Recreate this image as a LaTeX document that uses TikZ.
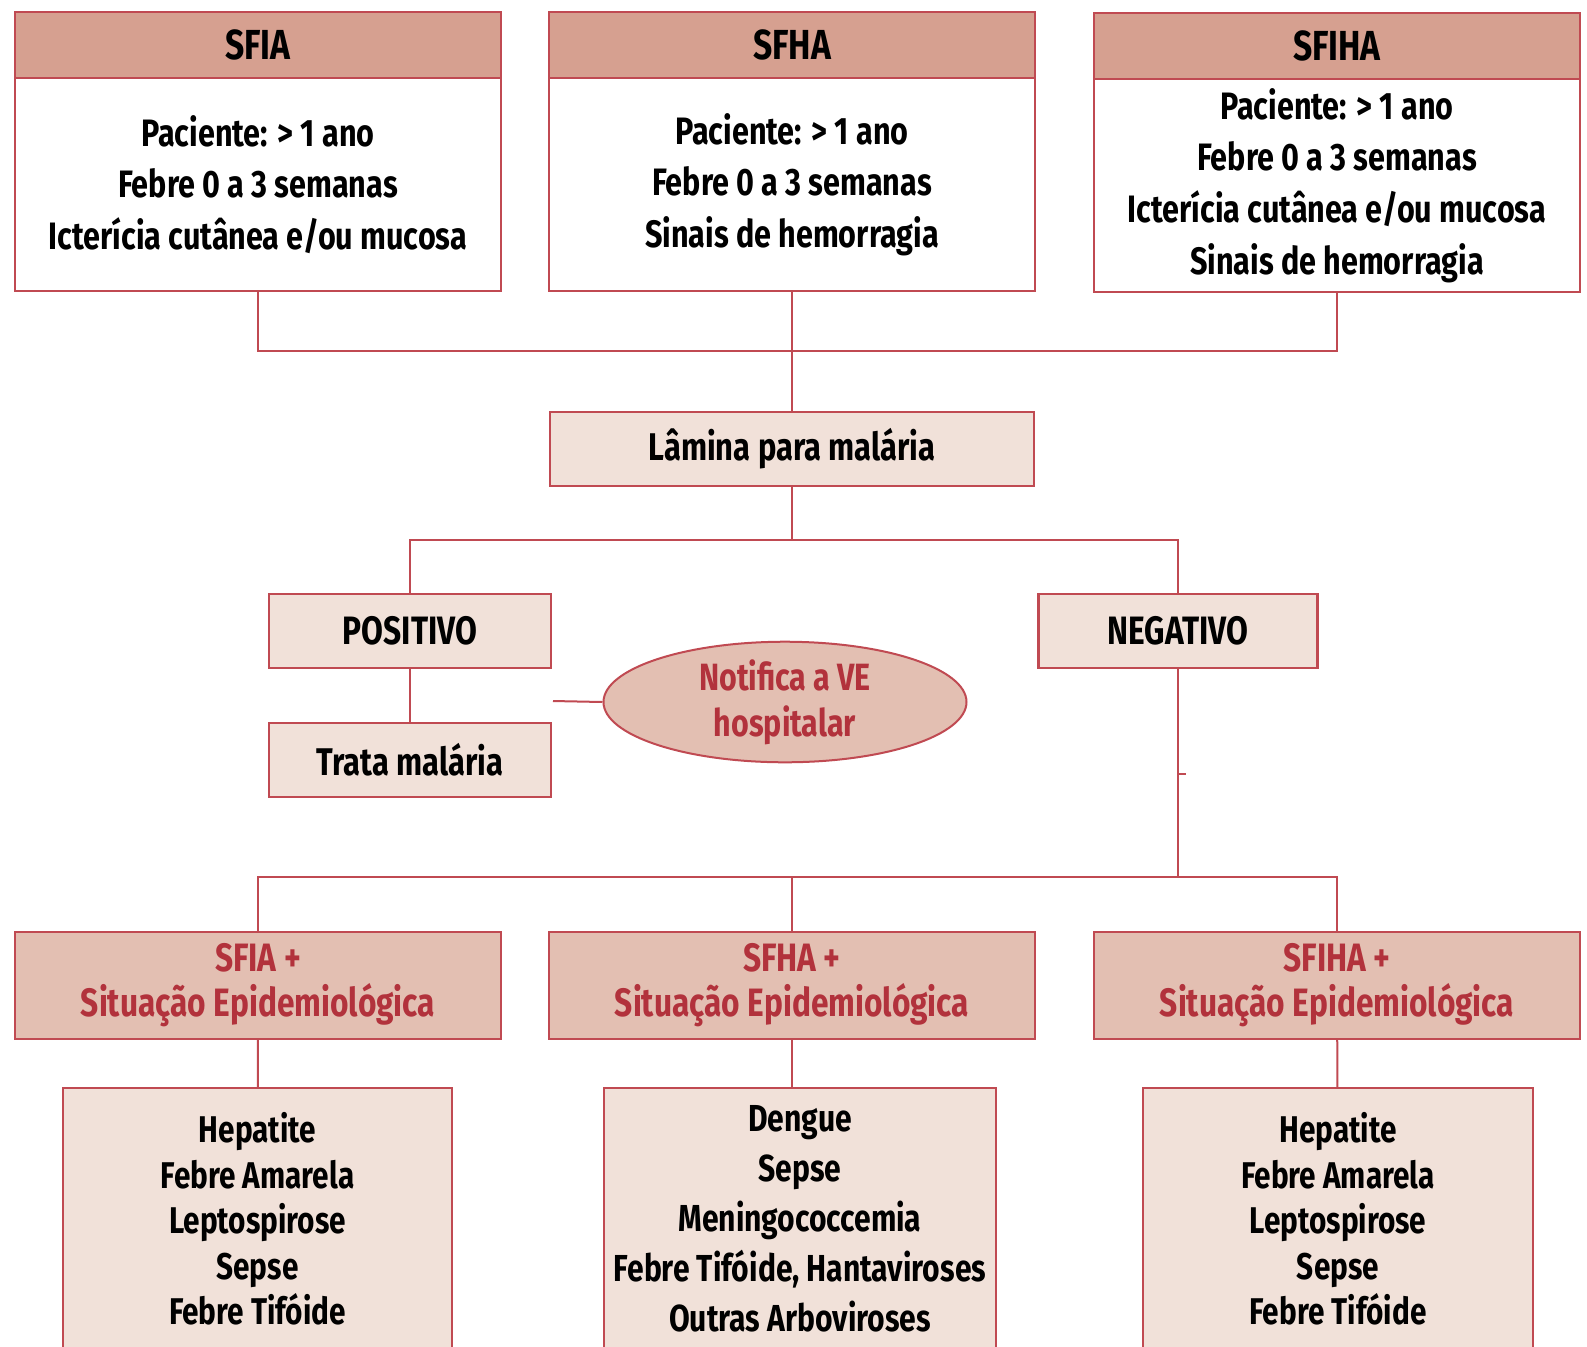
\documentclass[tikz,border=0pt]{standalone}
\usepackage{fontspec}
\setmainfont{Fira Sans}[FakeStretch=0.8]
\usetikzlibrary{positioning,shapes.geometric}
\definecolor{borda}{RGB}{192,74,82}
\definecolor{cabec}{RGB}{214,160,144}
\definecolor{medio}{RGB}{227,191,178}
\definecolor{claro}{RGB}{241,225,217}
\definecolor{texred}{RGB}{178,50,60}
\tikzset{
  caixa/.style={draw=borda, line width=1.2pt, outer sep=0pt, inner sep=0pt, align=center},
  hdr/.style={caixa, fill=cabec, minimum width=243pt, minimum height=33pt, font=\fontsize{21}{25}\selectfont\bfseries},
  corpo/.style={caixa, fill=white, minimum width=243pt, minimum height=106.5pt, font=\fontsize{19.1}{25.8}\selectfont\bfseries},
  passo/.style={caixa, fill=claro, minimum height=37pt, font=\fontsize{19.3}{25}\selectfont\bfseries},
  sitep/.style={caixa, fill=medio, text=texred, minimum width=243pt, minimum height=53.5pt, font=\fontsize{19.8}{22.5}\selectfont\bfseries},
  lista/.style={caixa, fill=claro, minimum height=131pt, font=\fontsize{18.6}{22.75}\selectfont\bfseries},
  liga/.style={draw=borda, line width=1pt}
}
\begin{document}
\begin{tikzpicture}[x=0.5pt, y=-0.5pt]
    \useasboundingbox (0,0) rectangle (1587,1346);

    % sindromes
    \node[hdr] (sfia) at (258,45) {SFIA};
    \node[corpo, below=0pt of sfia] (sfiab) {Paciente: > 1 ano\\Febre 0 a 3 semanas\\Icterícia cutânea e/ou mucosa};
    \node[hdr] (sfha) at (792,45) {SFHA};
    \node[corpo, below=0pt of sfha] (sfhab) {Paciente: > 1 ano\\Febre 0 a 3 semanas\\Sinais de hemorragia};
    \node[hdr] (sfiha) at (1337,46) {SFIHA};
    \node[corpo, below=0pt of sfiha] (sfihab) {Paciente: > 1 ano\\Febre 0 a 3 semanas\\Icterícia cutânea e/ou mucosa\\Sinais de hemorragia};

    \node[passo, minimum width=242pt] (lamina) at (792,449) {Lâmina para malária};
    \node[passo, minimum width=141pt, font=\fontsize{19.8}{25}\selectfont\bfseries] (pos) at (410,631) {POSITIVO};
    \node[passo, minimum width=141pt] (trata) at (410,760) {Trata malária};
    \node[passo, minimum width=139.5pt, font=\fontsize{19.8}{25}\selectfont\bfseries] (neg) at (1178,631) {NEGATIVO};
    \node[ellipse, draw=borda, line width=1pt, fill=medio, text=texred, minimum width=181.5pt, minimum height=57pt, inner sep=0pt, align=center,
          font=\fontsize{19}{23}\selectfont\bfseries] (ve) at (785,702) {Notifica a VE\\hospitalar};

    % situacao epidemiologica
    \node[sitep] (sfiap) at (258,985.5) {SFIA +\\Situação Epidemiológica};
    \node[sitep] (sfhap) at (792,985.5) {SFHA +\\Situação Epidemiológica};
    \node[sitep] (sfihap) at (1337,985.5) {SFIHA +\\Situação Epidemiológica};

    \node[lista, minimum width=194.5pt] (lista) at (257.5,1219) {Hepatite\\Febre Amarela\\Leptospirose\\Sepse\\Febre Tifóide};
    \node[lista, minimum width=196pt, font=\fontsize{18.8}{25}\selectfont\bfseries] (listb) at (800,1219) {Dengue\\Sepse\\Meningococcemia\\Febre Tifóide, Hantaviroses\\Outras Arboviroses};
    \node[lista, minimum width=195pt] (listc) at (1338,1219) {Hepatite\\Febre Amarela\\Leptospirose\\Sepse\\Febre Tifóide};

    \coordinate (jtop) at (792,351);
    \coordinate (jmid) at (792,540);
    \coordinate (jbot) at (1178,877);
    \coordinate (vefree) at (553,701);
    \coordinate (tick) at (1178,774);

    \draw[liga] (sfiab.south) |- (jtop) -| (sfihab.south);
    \draw[liga] (sfhab.south) -- (lamina.north);
    \draw[liga] (lamina.south) -- (jmid);
    \draw[liga] (pos.north) |- (jmid) -| (neg.north);
    \draw[liga] (pos) -- (trata);
    \draw[liga] (vefree) -- (ve.west);
    \draw[liga] (neg.south) -- (jbot);
    \draw[liga] (tick) -- ++(8,0);
    \draw[liga] (sfiap.north) |- (jbot) -| (sfihap.north);
    \draw[liga] (sfhap.north) -- (sfhap.north |- jbot);
    \draw[liga] (sfiap) -- (lista);
    \draw[liga] (sfhap.south) -- (sfhap.south |- listb.north);
    \draw[liga] (sfihap) -- (listc);
\end{tikzpicture}
\end{document}
